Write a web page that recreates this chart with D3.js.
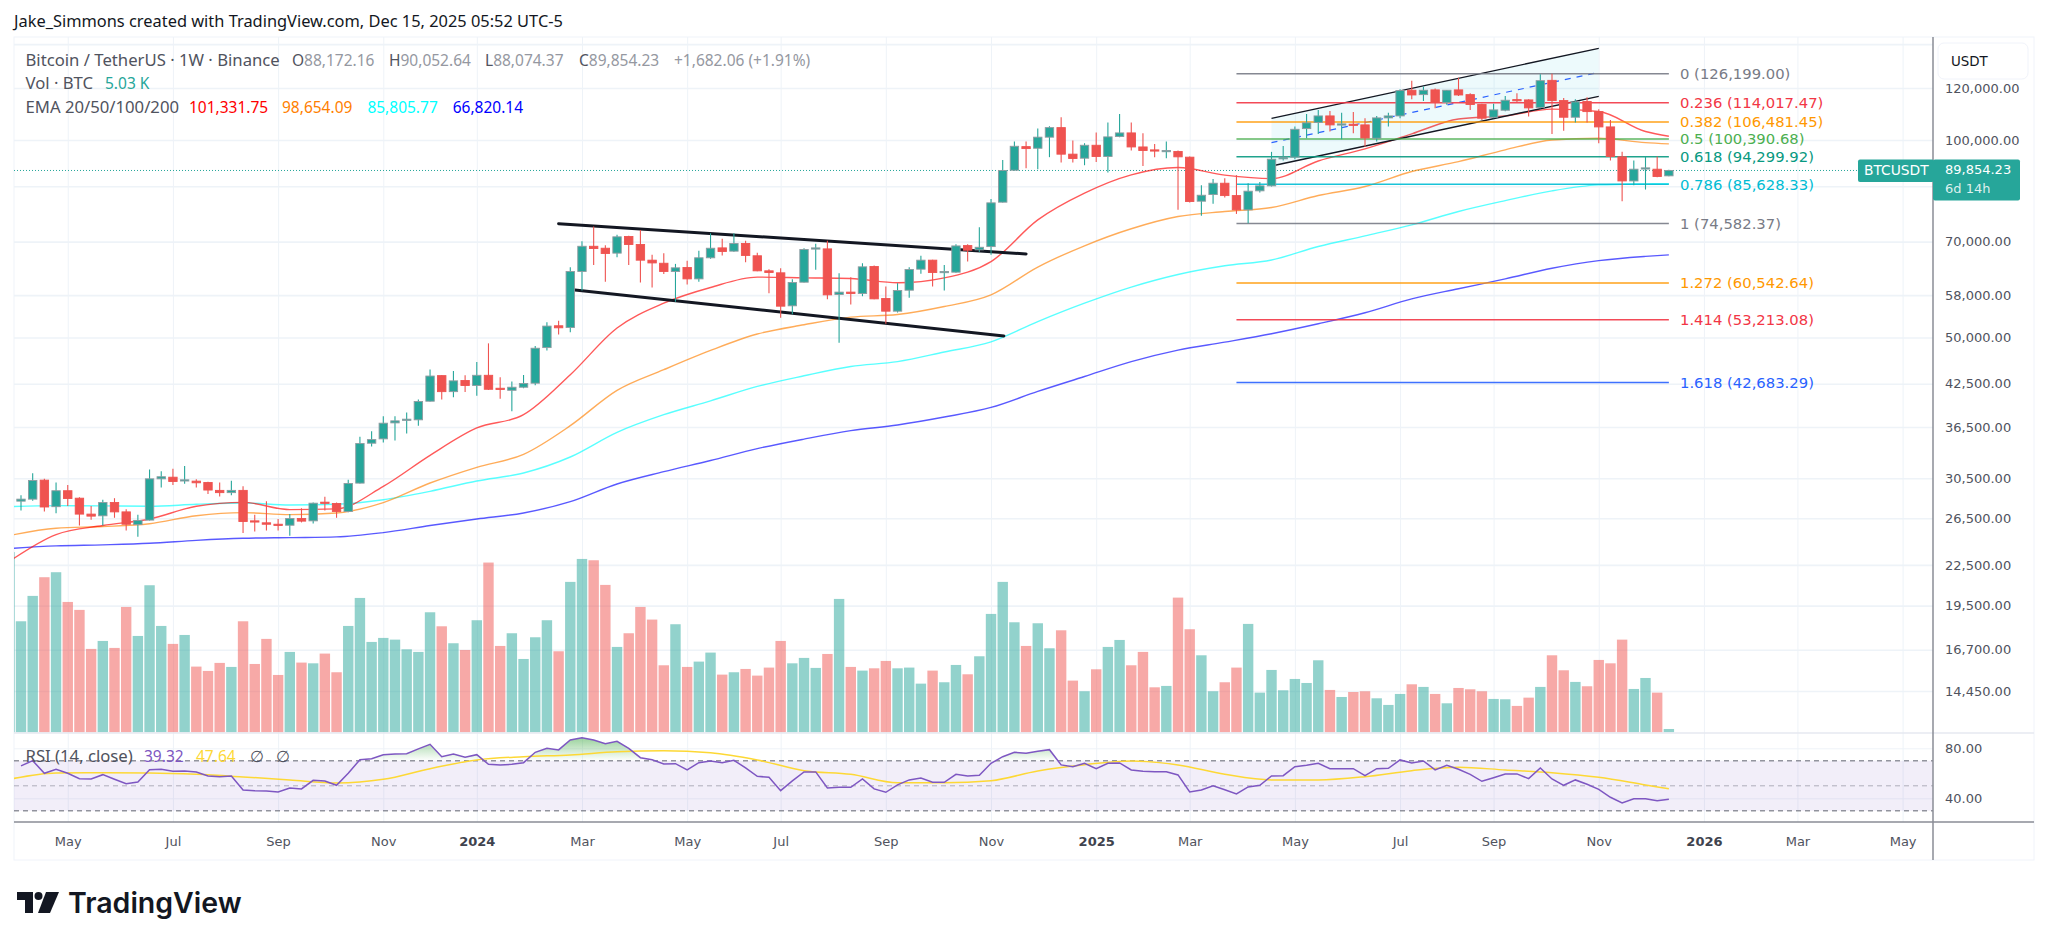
<!DOCTYPE html>
<html>
<head>
<meta charset="utf-8">
<script src="https://cdn.jsdelivr.net/npm/d3@7/dist/d3.min.js"></script>
<style>
  html, body { margin: 0; padding: 0; background: #fff; }
  svg { display: block; }
  text { font-family: "DejaVu Sans", sans-serif; }
  text.legend { font-family: "Noto Sans", sans-serif; }
</style>
</head>
<body>
<div id="chart"></div>
<script>
// weekly bars, week 0 is the first whole bar on screen (Apr 2023), week 141 the running one
const opens = [28140,28340,30295,27600,29190,28435,26890,26730,28005,27100,25920,26330,30435,30610,30225,30190,30050,29225,28995,29225,26260,26080,25950,25860,26480,26260,28040,27905,27135,29980,34490,35020,37040,37395,37440,39970,43725,41335,42980,42230,43775,41830,41530,41980,42580,48250,52090,51770,63025,68860,68390,67220,71260,69280,65580,64875,63025,63910,61410,66130,68470,67690,69530,66600,63170,62730,55870,60700,68230,68230,58130,58620,58340,64135,57320,54830,59020,63540,65580,62800,62875,69030,68000,68780,80390,89945,97700,97145,101000,104445,95150,93810,98170,94370,101220,102520,97590,96590,96150,96035,94150,80670,82570,85920,82270,78250,83650,85130,93590,94150,104080,106320,108820,105450,105700,105450,100630,108070,108820,119100,117270,119240,114060,119240,117270,113260,108320,111020,115240,115110,112070,123300,114850,108320,114450,110480,104700,94260,86610,90360,90260,88172.16];
const highs = [28730,31030,30435,30050,29770,28535,27660,28270,28435,27350,26825,31450,31260,31520,31850,30400,30120,30050,30225,29665,26825,28140,26420,26890,27450,28005,28570,28005,30330,35270,35980,37925,37925,38410,40205,44665,43775,44450,43775,45850,48970,43480,42830,43825,48530,52760,53000,63990,70110,73800,69110,71675,71425,72920,66830,67220,64730,65420,67770,72090,70680,72090,70200,67300,63540,63765,61340,68390,69450,70200,62650,61780,64875,64350,59790,60490,63990,66590,65655,64505,69360,69360,73620,81320,93260,99470,99470,104080,104950,108320,99820,98880,102640,106320,109570,106320,102400,98640,99470,96370,94370,85330,87220,87430,88380,85920,86310,95920,97920,104830,109570,111150,110740,110070,110350,107950,108820,110080,119520,123160,120640,119800,119240,124450,117830,113530,113530,116710,117830,115370,126000,126199,115900,115370,116150,111420,107320,95920,93040,94370,94370,90052.64];
const lows = [27230,28170,27135,26980,27660,25830,26360,25830,26545,25390,24830,26300,29530,29770,29910,29530,28860,28600,28730,25155,25300,25390,25390,24920,26115,26020,27230,26545,27070,29945,34100,34580,34830,35690,36680,39925,40205,40535,41290,40725,41580,40300,38600,41830,42280,47750,50500,50930,58950,64500,60770,66260,64500,60630,59580,62450,56670,60210,60770,65900,66680,67530,65110,63100,58410,53570,54250,60630,63390,57190,49060,56150,57780,57190,52460,54570,57450,62520,59790,58950,62730,65265,67460,66830,80300,89735,90575,90260,94150,92370,92370,91520,92590,89220,101000,96370,91310,94150,93810,78250,80300,76620,79920,81690,77140,74680,83150,84930,93040,93480,100630,102160,102990,100240,102400,97700,99470,104830,107950,115370,114720,111810,113130,116710,111150,107320,107950,110610,114190,108570,111680,102160,103340,106320,106320,98880,93040,80670,85330,84030,87750,88074.37];
const closes = [28340,30260,27570,29190,28400,26890,26700,28005,27100,25950,26300,30435,30660,30155,30330,30015,29260,28995,29225,26200,26200,25950,25860,26480,26235,27940,27940,27135,29945,34450,34930,37000,37305,37525,39925,43660,41335,42930,42230,43775,41680,41680,41980,42530,48140,52030,51720,63025,68860,68310,67140,71180,69280,65580,64950,63025,63840,61410,66130,68390,67610,69530,66680,63170,62800,55800,60630,68080,68470,58060,58620,58340,64060,57250,54830,58950,63470,65580,62800,63025,68945,67920,68620,80200,89840,97820,97030,101000,104445,95150,93700,98170,94370,101100,102520,97590,96370,96370,96370,94260,80570,82370,85920,82270,78250,83550,85130,93480,94150,103830,106200,108820,105450,105820,105320,100720,108070,108820,118960,117130,119100,114190,119100,117130,113260,107950,111150,114980,114850,111940,123160,114850,108320,114320,110480,104700,94370,86610,90260,90680,87960,89854.23];

const volumes = [168.8,207.4,235.8,243.4,198.2,186.1,126.8,138.9,128.3,190.6,146.5,223.6,161.7,134.4,148.0,99.9,93.3,105.5,99.4,168.8,103.9,142.0,87.2,122.2,106.0,104.9,119.7,91.3,161.7,204.3,137.4,143.5,140.9,126.2,122.2,182.5,161.2,135.4,125.2,170.4,258.1,131.3,150.6,111.5,144.5,170.4,123.2,228.7,263.6,261.6,224.1,129.8,150.6,190.6,171.4,101.9,164.3,99.4,107.5,121.2,87.7,91.3,96.3,86.2,98.4,138.9,104.9,113.1,97.9,119.1,202.8,99.4,93.8,97.3,108.5,97.3,98.4,74.0,93.8,76.1,102.4,88.2,115.6,180.0,228.7,167.3,131.3,165.8,127.8,155.1,78.6,62.4,95.8,129.8,140.4,101.9,122.2,68.4,70.5,204.8,156.7,117.1,62.4,76.1,98.4,164.8,60.3,94.8,63.9,81.1,75.0,109.5,64.4,53.7,61.3,62.4,51.7,41.6,58.3,73.0,69.0,58.3,44.1,67.4,65.4,62.4,50.7,50.2,40.1,52.7,69.0,117.1,94.3,76.6,70.0,110.0,104.9,140.9,65.9,82.6,60.3,5.03];
const volumeBeforeFirstWeek = 274;

// one line vertex every four weeks, that is how the lines look on this zoom level
const lineWeeks = [-1,3,7,11,15,19,23,27,31,35,39,43,47,51,55,59,63,67,71,75,79,83,87,91,95,99,103,107,111,115,119,123,127,131,135,139,141];
const ema20 = [22780,25025,25830,26430,27640,28020,27320,27390,29640,33050,36385,38120,43860,51680,56390,59590,61790,61630,61480,60570,61630,65250,75530,82985,88480,90790,88385,87320,92900,96950,102180,107660,108830,111440,110510,103020,101331.75];
const ema50 = [24940,25590,25740,26000,26740,27030,26840,27000,28000,29990,31690,33170,36680,41520,44640,47770,50600,52270,53690,54190,55740,58070,64010,68970,73220,76430,77800,78900,82280,84930,89530,92680,96610,100000,100620,99085,98654.09];
const ema100 = [27610,27700,27680,27640,27830,27960,27770,27830,28280,29130,30200,31070,32860,35830,38120,40020,42100,43700,45150,45930,47500,49230,52860,56390,59670,62370,64300,65630,68800,71430,74250,77800,80820,83660,85430,85730,85805.77];
const ema200 = [23830,24050,24140,24270,24520,24700,24760,24820,25200,25830,26430,27000,28090,29890,31210,32460,33840,34990,36040,36770,37810,39110,41370,43590,45930,47830,49180,50650,52450,54520,57240,59320,61410,63740,65470,66460,66820.14];

const rsi = [65.9,70.1,60.0,63.2,60.0,55.7,55.5,58.9,55.2,51.7,53.1,62.9,63.2,61.6,61.9,61.1,57.9,57.3,57.9,46.7,46.1,45.9,45.1,48.3,47.5,54.4,53.9,50.4,60.0,70.9,71.7,74.9,75.5,75.7,79.5,83.2,73.3,75.5,72.8,74.9,67.2,66.7,67.2,68.5,76.8,80.0,78.7,86.7,88.5,86.7,83.7,85.6,80.0,72.5,70.9,67.5,67.7,62.7,68.5,69.9,68.5,70.4,64.3,57.6,56.8,46.1,53.9,61.1,61.1,48.3,48.8,48.8,55.5,47.5,44.8,50.7,54.7,56.3,52.8,52.8,59.2,57.9,58.4,68.0,73.3,76.8,76.0,77.6,78.9,66.7,65.3,68.0,63.7,68.0,68.3,62.7,61.6,61.3,61.3,58.7,45.1,46.7,50.1,46.9,43.5,49.1,50.4,57.9,58.1,65.3,66.4,68.0,63.7,63.7,63.7,58.1,63.7,64.0,70.7,68.3,69.9,62.7,66.4,63.2,59.2,53.6,56.5,59.5,59.5,55.7,64.3,55.5,50.4,54.7,51.2,47.2,40.8,36.3,39.7,39.7,38.1,39.32];
const rsiMa = [55.2,60.3,60.5,60.3,59.2,57.1,54.7,52.3,55.2,63.7,70.7,73.3,74.7,77.3,78.1,76.5,70.7,62.1,59.2,52.5,52.5,54.1,61.9,66.9,69.9,66.7,59.2,54.7,54.7,57.3,62.1,64.8,62.7,60.5,56.8,50.7,47.64];

const priceTicks = [140000,120000,100000,85000,70000,58000,50000,42500,36500,30500,26500,22500,19500,16700,14450];
const rsiTicks = [80,40];
const timeWeeks = [4,13,22,31,39,48,57,65,74,83,92,100,109,118,126,135,144,152,161];
const timeLabels = ["May","Jul","Sep","Nov","2024","Mar","May","Jul","Sep","Nov","2025","Mar","May","Jul","Sep","Nov","2026","Mar","May"];

const fibRatios = ["0","0.236","0.382","0.5","0.618","0.786","1","1.272","1.414","1.618"];
const fibPrices = [126199,114017.47,106481.45,100390.68,94299.92,85628.33,74582.37,60542.64,53213.08,42683.29];
const fibColors = ["#787b86","#f23645","#ff9800","#4caf50","#089981","#00bcd4","#787b86","#ff9800","#f23645","#2962ff"];
const fibWeeks = [104,141];

const channelWeeks = [107,135];
const channelTop = [107910,137960];
const channelBottom = [91280,116570];
const channelMid = [99060,126810];

const wedgeTopWeeks = [46,86];
const wedgeTop = [74550,67030];
const wedgeBottomWeeks = [47.4,84.1];
const wedgeBottom = [59080,50270];

const lastPrice = 89854.23;

const width = 2048, height = 946;
const paneLeft = 14, paneRight = 1933, frameRight = 2034;
const paneTop = 37, mainBottom = 733, rsiBottom = 822, frameBottom = 860;

const green = "#26a69a", red = "#ef5350";
const gridColor = "#eef3f8";

const svg = d3.select("#chart").append("svg").attr("width", width).attr("height", height);

const x = d3.scaleLinear().domain([0, 141]).range([21, 1668.87]);
const y = d3.scaleLog().domain([100000, 14450]).range([140, 691]);
const yVol = d3.scaleLinear().domain([0, 300]).range([732.3, 535]);
const yRsi = d3.scaleLinear().domain([80, 40]).range([748.3, 798.3]);

const defs = svg.append("defs");
defs.append("clipPath").attr("id", "mainClip").append("rect")
    .attr("x", paneLeft).attr("y", paneTop).attr("width", paneRight - paneLeft).attr("height", mainBottom - paneTop);
defs.append("clipPath").attr("id", "rsiClip").append("rect")
    .attr("x", paneLeft).attr("y", mainBottom).attr("width", paneRight - paneLeft).attr("height", rsiBottom - mainBottom);
defs.append("clipPath").attr("id", "above70").append("rect")
    .attr("x", paneLeft).attr("y", mainBottom).attr("width", paneRight - paneLeft).attr("height", yRsi(70) - mainBottom);
const grad = defs.append("linearGradient").attr("id", "obFill")
    .attr("gradientUnits", "userSpaceOnUse")
    .attr("x1", 0).attr("x2", 0).attr("y1", yRsi(88)).attr("y2", yRsi(70));
grad.append("stop").attr("offset", 0).attr("stop-color", "#4caf50").attr("stop-opacity", 0.55);
grad.append("stop").attr("offset", 1).attr("stop-color", "#4caf50").attr("stop-opacity", 0);

svg.append("text").attr("class", "legend").attr("x", 14).attr("y", 27).attr("font-size", 16.4).attr("fill", "#131722")
    .text("Jake_Simmons created with TradingView.com, Dec 15, 2025 05:52 UTC-5");

// frame
svg.append("rect").attr("x", paneLeft).attr("y", paneTop)
    .attr("width", frameRight - paneLeft).attr("height", frameBottom - paneTop)
    .attr("fill", "none").attr("stroke", "#f0f3fa");

// grid, drawn with the axes' long ticks
const gridH = svg.append("g").attr("transform", `translate(${paneLeft},0)`)
    .call(d3.axisRight(y).tickValues(priceTicks).tickSize(paneRight - paneLeft).tickFormat(""));
const gridR = svg.append("g").attr("transform", `translate(${paneLeft},0)`)
    .call(d3.axisRight(yRsi).tickValues(rsiTicks).tickSize(paneRight - paneLeft).tickFormat(""));
const gridV = svg.append("g").attr("transform", `translate(0,${paneTop})`)
    .call(d3.axisBottom(x).tickValues(timeWeeks).tickSize(rsiBottom - paneTop).tickFormat(""));
[gridH, gridR, gridV].forEach(g => {
    g.select(".domain").remove();
    g.selectAll("line").attr("stroke", gridColor);
});
gridH.selectAll("line").attr("stroke-width", 1.6);

// rsi band behind everything in the lower pane
const rsiPane = svg.append("g").attr("clip-path", "url(#rsiClip)");
rsiPane.append("rect").attr("x", paneLeft).attr("width", paneRight - paneLeft)
    .attr("y", yRsi(70)).attr("height", yRsi(30) - yRsi(70))
    .attr("fill", "#7e57c2").attr("fill-opacity", 0.1);
rsiPane.selectAll("line.band").data([70, 50, 30]).enter().append("line")
    .attr("x1", paneLeft).attr("x2", paneRight)
    .attr("y1", d => yRsi(d)).attr("y2", d => yRsi(d))
    .attr("stroke", "#787b86").attr("stroke-opacity", d => d === 50 ? 0.55 : 0.8)
    .attr("stroke-width", d => d === 50 ? 1 : 1.5)
    .attr("stroke-dasharray", "5 4");

const weekIdx = d3.range(rsi.length);
rsiPane.append("path").datum(weekIdx)
    .attr("clip-path", "url(#above70)")
    .attr("fill", "url(#obFill)")
    .attr("d", d3.area().x(d => x(d)).y0(yRsi(70)).y1(d => yRsi(rsi[d])));
rsiPane.append("path").datum(lineWeeks.map((w, i) => [w, rsiMa[i]]))
    .attr("fill", "none").attr("stroke", "#fdd835").attr("stroke-width", 1.5)
    .attr("d", d3.line().curve(d3.curveMonotoneX).x(d => x(d[0])).y(d => yRsi(d[1])));
rsiPane.append("path").datum(weekIdx)
    .attr("fill", "none").attr("stroke", "#7e57c2").attr("stroke-width", 1.5)
    .attr("d", d3.line().x(d => x(d)).y(d => yRsi(rsi[d])));

const main = svg.append("g").attr("clip-path", "url(#mainClip)");

// volume bars
const isUp = i => closes[i] >= opens[i];
main.append("rect")
    .attr("x", x(-1) - 5).attr("width", 10.4)
    .attr("y", yVol(volumeBeforeFirstWeek)).attr("height", yVol(0) - yVol(volumeBeforeFirstWeek))
    .attr("fill", green).attr("fill-opacity", 0.5);
main.selectAll("rect.vol").data(volumes).enter().append("rect")
    .attr("class", "vol")
    .attr("x", (d, i) => x(i) - 5.2)
    .attr("width", 10.4)
    .attr("y", d => yVol(d))
    .attr("height", d => yVol(0) - yVol(d))
    .attr("fill", (d, i) => isUp(i) ? green : red)
    .attr("fill-opacity", 0.5);

// price line
main.append("line").attr("x1", paneLeft).attr("x2", paneRight)
    .attr("y1", y(lastPrice)).attr("y2", y(lastPrice))
    .attr("stroke", green).attr("stroke-dasharray", "1 2");

// moving averages
const straight = d3.line().x(d => x(d[0])).y(d => y(d[1]));
const emaLine = d3.line().curve(d3.curveMonotoneX).x(d => x(d[0])).y(d => y(d[1]));
[[ema200, "#0000ff"], [ema100, "#00ffff"], [ema50, "#ff8000"], [ema20, "#ff0000"]].forEach(([vals, c]) => {
    main.append("path").datum(lineWeeks.map((w, i) => [w, vals[i]]))
        .attr("fill", "none").attr("stroke", c).attr("stroke-opacity", 0.65).attr("stroke-width", 1.4)
        .attr("d", emaLine);
});

// parallel channel
main.append("path")
    .attr("d", d3.area().x(d => x(d)).y0((d, i) => y(channelBottom[i])).y1((d, i) => y(channelTop[i]))(channelWeeks))
    .attr("fill", "#00bcd4").attr("fill-opacity", 0.07);
[channelTop, channelBottom].forEach(vals => {
    main.append("path").datum(channelWeeks.map((w, i) => [w, vals[i]]))
        .attr("fill", "none").attr("stroke", "#131722").attr("stroke-width", 1.4).attr("d", straight);
});
main.append("path").datum(channelWeeks.map((w, i) => [w, channelMid[i]]))
    .attr("fill", "none").attr("stroke", "#2962ff").attr("stroke-width", 1.2)
    .attr("stroke-dasharray", "6 6").attr("d", straight);

// fib levels
fibPrices.forEach((p, i) => {
    main.append("line")
        .attr("x1", x(fibWeeks[0])).attr("x2", x(fibWeeks[1]))
        .attr("y1", y(p)).attr("y2", y(p))
        .attr("stroke", fibColors[i]).attr("stroke-width", 1.5).attr("stroke-opacity", 0.9);
    svg.append("text").attr("x", 1680).attr("y", y(p)).attr("dy", "0.36em")
        .attr("font-size", 14.8).attr("fill", fibColors[i])
        .text(`${fibRatios[i]} (${d3.format(",.2f")(p)})`);
});

// falling wedge
[[wedgeTopWeeks, wedgeTop], [wedgeBottomWeeks, wedgeBottom]].forEach(([w, vals]) => {
    main.append("path").datum(w.map((d, i) => [d, vals[i]]))
        .attr("fill", "none").attr("stroke", "#131722").attr("stroke-width", 3).attr("stroke-linecap", "round")
        .attr("d", straight);
});

// candles
const candles = main.append("g").selectAll("g").data(opens).enter().append("g");
candles.append("line")
    .attr("x1", (d, i) => x(i)).attr("x2", (d, i) => x(i))
    .attr("y1", (d, i) => y(highs[i])).attr("y2", (d, i) => y(lows[i]))
    .attr("stroke", (d, i) => isUp(i) ? green : red).attr("stroke-width", 1.1);
candles.append("rect")
    .attr("x", (d, i) => x(i) - 4.2)
    .attr("width", 8.4)
    .attr("y", (d, i) => y(Math.max(opens[i], closes[i])))
    .attr("height", (d, i) => Math.max(1.2, Math.abs(y(opens[i]) - y(closes[i]))))
    .attr("fill", (d, i) => isUp(i) ? green : red)
    .attr("stroke", (d, i) => isUp(i) ? "#8f9ba0" : red)
    .attr("stroke-width", 0.9);

// axes
const priceAxis = svg.append("g").attr("transform", `translate(${paneRight},0)`)
    .call(d3.axisRight(y).tickValues(priceTicks.filter(d => d !== 85000 && d !== 140000)).tickSize(0).tickPadding(12).tickFormat(d3.format(",.2f")));
const rsiAxis = svg.append("g").attr("transform", `translate(${paneRight},0)`)
    .call(d3.axisRight(yRsi).tickValues(rsiTicks).tickSize(0).tickPadding(12).tickFormat(d3.format(".2f")));
const timeAxis = svg.append("g").attr("transform", `translate(0,${rsiBottom})`)
    .call(d3.axisBottom(x).tickValues(timeWeeks).tickSize(0).tickPadding(15).tickFormat((d, i) => timeLabels[i]));
[priceAxis, rsiAxis, timeAxis].forEach(g => {
    g.select(".domain").remove();
    g.selectAll("text").attr("font-size", 13).attr("font-family", '"DejaVu Sans", sans-serif').attr("fill", "#50535e");
});
timeAxis.selectAll("text").filter((d, i) => /^\d/.test(timeLabels[i])).attr("font-weight", "bold").attr("fill", "#40434e");

// pane borders
svg.append("line").attr("x1", paneLeft).attr("x2", frameRight).attr("y1", mainBottom).attr("y2", mainBottom)
    .attr("stroke", "#e6e8f0").attr("stroke-width", 1.5);
svg.append("line").attr("x1", paneLeft).attr("x2", frameRight).attr("y1", rsiBottom).attr("y2", rsiBottom)
    .attr("stroke", "#8a8d96").attr("stroke-width", 1.5);
svg.append("line").attr("x1", paneRight).attr("x2", paneRight).attr("y1", paneTop).attr("y2", frameBottom)
    .attr("stroke", "#8a8d96").attr("stroke-width", 1.5);

// currency button sits over the top of the price scale
svg.append("rect").attr("x", 1936).attr("y", 38).attr("width", 97).attr("height", 43).attr("fill", "#fff");
svg.append("rect").attr("x", 1938).attr("y", 43).attr("width", 90).attr("height", 36).attr("rx", 6)
    .attr("fill", "#fff").attr("stroke", "#f0f3fa");
svg.append("text").attr("x", 1951).attr("y", 66).attr("font-size", 13.4).attr("fill", "#131722").text("USDT");

// last price labels
const ly = y(lastPrice);
svg.append("rect").attr("x", 1858).attr("y", ly - 11).attr("width", 76).attr("height", 22.5).attr("rx", 2).attr("fill", green);
svg.append("rect").attr("x", paneRight).attr("y", ly - 11).attr("width", 87).attr("height", 41).attr("rx", 2).attr("fill", green);
svg.append("text").attr("x", 1864).attr("y", ly + 5).attr("font-size", 13.8).attr("fill", "#fff").text("BTCUSDT");
svg.append("text").attr("x", 1945).attr("y", ly + 4).attr("font-size", 13).attr("fill", "#fff").text(d3.format(",.2f")(lastPrice));
svg.append("text").attr("x", 1945).attr("y", ly + 23).attr("font-size", 13).attr("fill", "#fff").attr("fill-opacity", 0.85).text("6d 14h");

// legends: words run wider than digits in the reference, hence two sizes
const gray = "#50535e";
const wordSize = 16.7, valueSize = 15.5;
function legend(px, py, str, color, size) {
    svg.append("text").attr("class", "legend").attr("x", px).attr("y", py).attr("font-size", size || valueSize).attr("fill", color).text(str);
}
legend(25.5, 66, "Bitcoin / TetherUS · 1W · Binance", gray, wordSize);
[["O", "88,172.16", 292], ["H", "90,052.64", 389], ["L", "88,074.37", 485], ["C", "89,854.23", 579]].forEach(([k, v, px]) => {
    const t = svg.append("text").attr("class", "legend").attr("x", px).attr("y", 66).attr("font-size", valueSize).attr("fill", gray);
    t.append("tspan").text(k);
    t.append("tspan").attr("fill", "#9598a1").text(v);
});
legend(674, 66, "+1,682.06 (+1.91%)", "#9598a1");
legend(25.5, 89, "Vol · BTC", gray, wordSize);
legend(105, 89, "5.03 K", green);
legend(25.5, 113, "EMA 20/50/100/200", gray, wordSize);
legend(189, 113, "101,331.75", "#ff0000");
legend(282, 113, "98,654.09", "#ff8000");
legend(367.4, 113, "85,805.77", "#00ffff");
legend(452.7, 113, "66,820.14", "#0000ff");
legend(25.5, 762, "RSI (14, close)", gray, wordSize);
legend(144, 762, "39.32", "#7e57c2");
legend(196, 762, "47.64", "#fdd835");
legend(250, 762, "∅", gray);
legend(275.5, 762, "∅", gray);

// TradingView mark
const logo = svg.append("g").attr("fill", "#131722");
logo.append("path").attr("d", "M17 892H33V913H25V900H17Z");
logo.append("circle").attr("cx", 38.5).attr("cy", 896).attr("r", 4);
logo.append("path").attr("d", "M46 892H59L50 913H38Z");
svg.append("text").attr("x", 68).attr("y", 913).attr("font-size", 28.5).attr("font-weight", 600)
    .style("font-family", "Inter, sans-serif").attr("fill", "#131722").text("TradingView");
</script>
</body>
</html>
